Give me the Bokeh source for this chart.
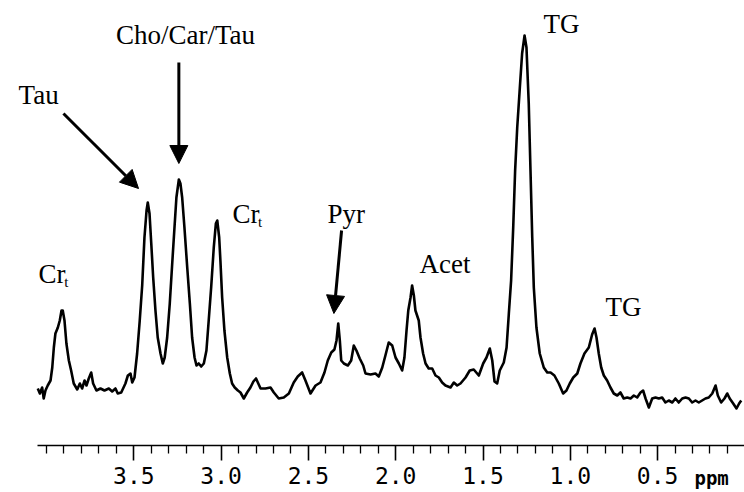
from bokeh.plotting import figure
from bokeh.models import Range1d, FixedTicker, Label, Arrow, NormalHead, PrintfTickFormatter
from bokeh.embed import file_html
from bokeh.resources import INLINE

# 1H spectrum: chemical shift (ppm) and signal intensity (arbitrary units)
ppm = [
    4.050, 4.038, 4.025, 4.016, 4.006, 3.993, 3.977, 3.967, 3.958, 3.949,
    3.935, 3.924, 3.914, 3.907, 3.897, 3.886, 3.872, 3.859, 3.844, 3.824,
    3.809, 3.796, 3.782, 3.771, 3.758, 3.744, 3.733, 3.714, 3.691, 3.668,
    3.643, 3.624, 3.605, 3.592, 3.572, 3.548, 3.534, 3.519, 3.509, 3.496,
    3.481, 3.466, 3.452, 3.439, 3.427, 3.420,
    3.410, 3.400, 3.389, 3.376, 3.363, 3.347, 3.334, 3.323, 3.309, 3.294,
    3.280, 3.267, 3.256, 3.242, 3.233, 3.223, 3.210, 3.194, 3.179, 3.166,
    3.152, 3.141, 3.128, 3.114, 3.099, 3.084, 3.071, 3.057, 3.042, 3.030,
    3.022, 3.011, 3.004, 2.994, 2.981, 2.965, 2.950, 2.937, 2.922, 2.904,
    2.889, 2.870, 2.851, 2.832,
    2.815, 2.800, 2.774, 2.746, 2.717, 2.698, 2.670, 2.641, 2.612, 2.584,
    2.561, 2.536, 2.517, 2.488, 2.459, 2.431, 2.408, 2.389, 2.369, 2.351,
    2.339, 2.329, 2.320, 2.312, 2.297, 2.274, 2.255, 2.240, 2.225, 2.206,
    2.186, 2.173, 2.144, 2.116, 2.097,
    2.077, 2.059, 2.040, 2.020, 2.001, 1.982, 1.963, 1.950, 1.938, 1.928,
    1.915, 1.906, 1.896, 1.887, 1.868, 1.858, 1.843, 1.829, 1.811, 1.791,
    1.772, 1.753, 1.734, 1.715, 1.686, 1.667, 1.648, 1.629, 1.600, 1.576,
    1.553, 1.524, 1.499, 1.480, 1.461, 1.447, 1.434, 1.419, 1.404,
    1.381, 1.365, 1.352, 1.339, 1.327, 1.316, 1.304, 1.289, 1.276, 1.262,
    1.251, 1.238, 1.228, 1.218, 1.209, 1.194, 1.175, 1.152, 1.132, 1.113,
    1.091, 1.066, 1.041, 1.022, 1.003, 0.983, 0.960, 0.942, 0.919, 0.894,
    0.875, 0.861, 0.850, 0.837, 0.823,
    0.808, 0.789, 0.770, 0.751, 0.731, 0.713, 0.694, 0.674, 0.655, 0.636,
    0.617, 0.598, 0.583, 0.569, 0.550, 0.531, 0.512, 0.493, 0.474, 0.455,
    0.436, 0.416, 0.398, 0.379, 0.359, 0.340, 0.321, 0.302, 0.283, 0.264,
    0.245, 0.226, 0.207, 0.187, 0.168, 0.155, 0.136, 0.117, 0.101, 0.087,
    0.067, 0.048, 0.033, 0.021,
]

intensity = [
    1.2, 0.7, 1.3, 0.2, 1.0, 1.5, 2.0, 3.3, 5.3, 6.7,
    7.3, 8.0, 9.0, 9.0, 8.0, 5.7, 4.0, 3.0, 1.7, 1.1,
    1.7, 1.2, 2.0, 1.5, 2.2, 2.8, 1.7, 1.0, 1.2, 1.0,
    1.2, 0.9, 1.2, 0.7, 0.8, 1.7, 2.5, 2.7, 1.8, 2.3,
    4.7, 8.0, 11.5, 16.3, 19.0, 19.8,
    18.7, 15.7, 12.3, 9.0, 6.3, 4.7, 3.7, 4.3, 6.3, 9.7,
    13.7, 17.3, 20.3, 22.1, 21.7, 20.3, 17.3, 13.3, 9.7, 6.3,
    4.3, 3.5, 3.7, 3.4, 3.7, 5.0, 8.0, 11.3, 15.3, 17.7,
    18.0, 16.3, 14.0, 10.3, 7.0, 4.3, 2.7, 1.7, 1.3, 1.0,
    0.8, 0.2, 0.8, 1.3,
    1.9, 2.2, 1.2, 1.2, 1.3, 0.8, 0.2, 0.3, 0.7, 1.8,
    2.4, 2.8, 2.0, 0.7, 1.5, 1.8, 2.8, 4.0, 4.8, 5.1,
    6.0, 7.7, 6.0, 4.0, 3.7, 3.5, 4.0, 5.5, 5.0, 4.2,
    3.5, 2.7, 2.6, 2.7, 2.4,
    3.3, 4.5, 5.8, 5.5, 4.3, 3.7, 3.0, 4.3, 7.0, 9.0,
    10.3, 11.5, 10.5, 9.0, 8.0, 6.3, 4.7, 3.7, 3.2, 3.2,
    2.5, 2.3, 1.8, 1.5, 1.3, 1.8, 1.5, 1.7, 2.3, 3.0,
    3.1, 2.5, 3.7, 4.3, 5.2, 4.0, 1.9, 1.7, 3.0,
    3.8, 5.3, 8.7, 12.0, 17.3, 23.0, 27.3, 31.3, 34.7, 36.5,
    35.3, 29.7, 23.0, 16.3, 11.3, 7.3, 4.7, 3.3, 2.8, 2.8,
    2.5, 1.7, 0.7, 1.0, 1.7, 2.3, 2.7, 3.7, 4.7, 5.3,
    6.6, 7.2, 6.3, 4.7, 3.3,
    2.5, 2.0, 1.3, 0.7, 0.5, 0.8, 0.2, 0.3, 0.2, 0.5,
    0.3, 0.8, 1.0, 0.2, -0.7, 0.2, 0.3, 0.2, 0.3, -0.2,
    0.0, -0.2, 0.2, -0.2, 0.2, 0.3, 0.2, -0.2, 0.0, -0.2,
    0.0, 0.2, 0.3, 0.7, 1.5, 0.5, -0.2, 0.2, 0.7, 0.2,
    -0.3, -0.8, -0.3, 0.0,
]

major_ticks = [3.5, 3.0, 2.5, 2.0, 1.5, 1.0, 0.5]
minor_ticks = [4.0, 3.9, 3.8, 3.7, 3.6, 3.4, 3.3, 3.2, 3.1, 2.9, 2.8, 2.7, 2.6,
               2.4, 2.3, 2.2, 2.1, 1.9, 1.8, 1.7, 1.6, 1.4, 1.3, 1.2, 1.1,
               0.9, 0.8, 0.7, 0.6, 0.4, 0.3, 0.2, 0.1]

# the frame fills the whole canvas; the shift axis sits inside it at a fixed level
p = figure(width=744, height=492, output_backend="svg", toolbar_location=None,
           x_range=Range1d(4.2635, 0.0023), y_range=Range1d(-9.2, 40),
           y_axis_location=None,
           min_border_left=0, min_border_right=0, min_border_top=0,
           min_border_bottom=0)
p.outline_line_color = None
p.grid.visible = False
p.background_fill_color = "white"
p.border_fill_color = "white"

p.line(ppm, intensity, line_color="black", line_width=2.6, line_join="round")

ax = p.xaxis[0]
ax.fixed_location = -4.5
ax.bounds = (0.0, 4.05)
ax.ticker = FixedTicker(ticks=major_ticks, minor_ticks=minor_ticks)
ax.formatter = PrintfTickFormatter(format="%.1f")
ax.axis_line_width = 1.6
ax.axis_line_color = "black"
ax.major_tick_line_width = 1.6
ax.major_tick_out = 15
ax.major_tick_in = 0
ax.minor_tick_line_width = 1.3
ax.minor_tick_out = 8
ax.minor_tick_in = 0
ax.major_label_standoff = 6
ax.major_label_text_font = "DejaVu Sans Mono"
ax.major_label_text_font_size = "23px"
ax.major_label_text_color = "black"

serif = "Liberation Serif"


def note(text, x, y, size="27px", align="left"):
    p.add_layout(Label(x=x, y=y, text=text, text_font=serif, text_font_size=size,
                       text_align=align, text_baseline="alphabetic",
                       text_color="black"))


note("Tau", 4.160, 30.6)
note("Cho/Car/Tau", 3.204, 36.6, align="center")
note("Cr", 4.046, 12.7)
note("t", 3.899, 11.9, size="15px")
note("Cr", 2.935, 18.7)
note("t", 2.788, 17.9, size="15px")
note("Pyr", 2.391, 18.7)
note("Acet", 1.864, 13.7)
note("TG", 1.154, 37.7)
note("TG", 0.798, 9.4)

# unit label beside the last tick label
p.add_layout(Label(x=0.289, y=-7.7, text="ppm", text_font="DejaVu Sans Mono",
                   text_font_size="19px", text_font_style="bold",
                   text_color="black",
                   text_align="left", text_baseline="alphabetic"))

for xs, ys, xe, ye in [(3.903, 28.7, 3.473, 21.2),
                       (3.242, 33.8, 3.242, 23.7),
                       (2.310, 17.0, 2.354, 8.7)]:
    p.add_layout(Arrow(end=NormalHead(size=18, fill_color="black", line_color="black"),
                       x_start=xs, y_start=ys, x_end=xe, y_end=ye,
                       line_width=3, line_color="black"))

open("out.html", "w").write(file_html(p, INLINE))
